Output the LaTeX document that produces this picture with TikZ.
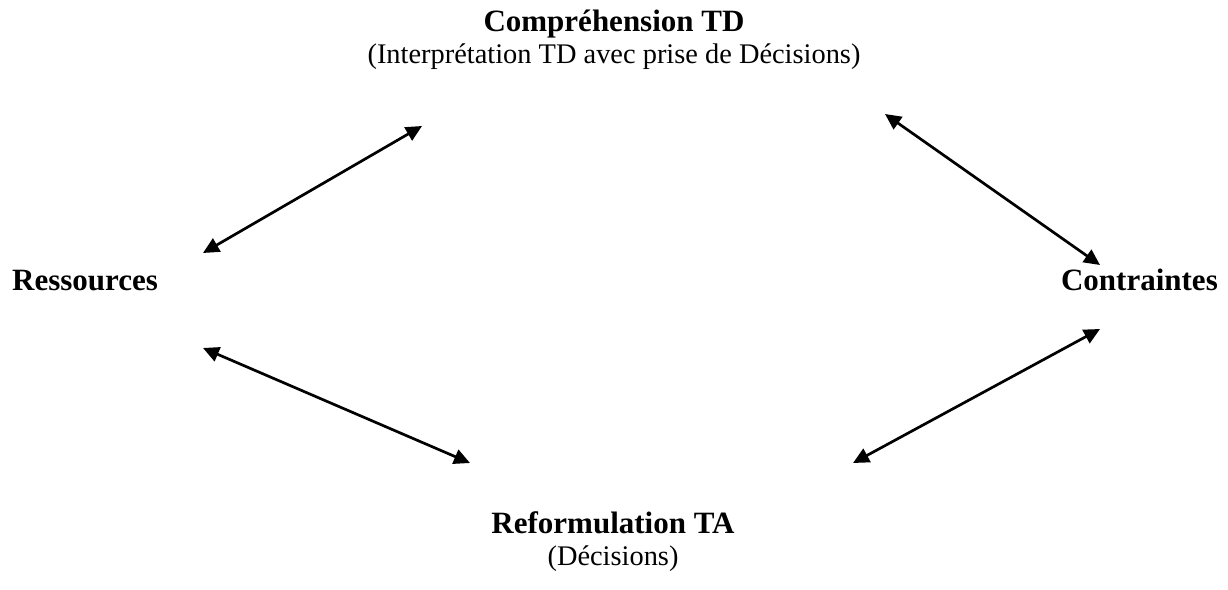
\documentclass[tikz,border=0pt]{standalone}
\usepackage{fontspec}
\setmainfont{Liberation Serif}
\usetikzlibrary{arrows.meta}
\begin{document}
\begin{tikzpicture}[x=1pt,y=-1pt,
  lbl/.style={inner sep=0pt,anchor=base,font=\fontsize{28.4}{32}\selectfont},
  blbl/.style={inner sep=0pt,anchor=base,font=\fontsize{31}{34}\selectfont\bfseries},
  link/.style={line width=2.7pt,{Triangle[length=16pt,width=15pt]}-{Triangle[length=16pt,width=15pt]}}]
\useasboundingbox (0,0) rectangle (1228,589);
\node[blbl] (comp) at (614,31) {Compréhension TD};
\node[lbl] (interp) at (614,63) {(Interprétation TD avec prise de Décisions)};
\node[blbl,anchor=base west] (ress) at (12,290) {Ressources};
\node[blbl,anchor=base east] (contr) at (1218,290) {Contraintes};
\node[blbl] (reform) at (613,533) {Reformulation TA};
\node[lbl] (dec) at (613,565) {(Décisions)};
\coordinate (a1) at (203,253);
\coordinate (a2) at (422,126);
\coordinate (b1) at (885,114);
\coordinate (b2) at (1100,265);
\coordinate (c1) at (203,348);
\coordinate (c2) at (470,463);
\coordinate (d1) at (853,463);
\coordinate (d2) at (1100,329);
\draw[link] (a1) -- (a2);
\draw[link] (b1) -- (b2);
\draw[link] (c1) -- (c2);
\draw[link] (d1) -- (d2);
\end{tikzpicture}
\end{document}
